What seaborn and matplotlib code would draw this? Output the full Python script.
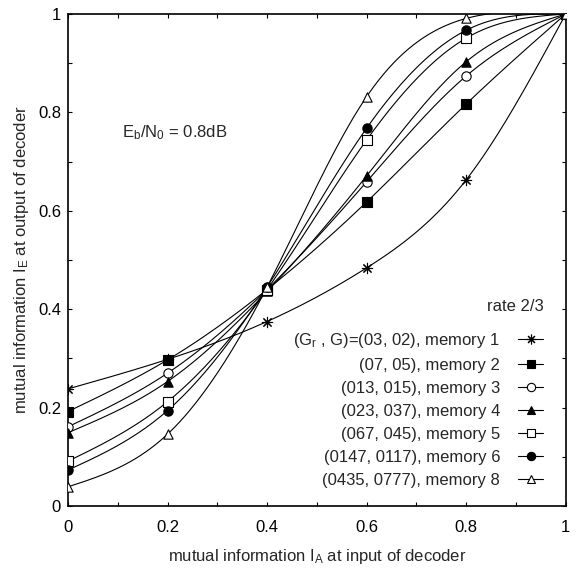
import numpy as np
import matplotlib
matplotlib.use("Agg")
import matplotlib.pyplot as plt
import seaborn as sns
import pandas as pd
from matplotlib.lines import Line2D
from matplotlib.ticker import MultipleLocator

# EXIT chart values, rate 2/3 codes at Eb/N0 = 0.8dB
i_a = [0.0, 0.2, 0.4, 0.6, 0.8, 1.0]
mem1 = [0.238, 0.298, 0.375, 0.484, 0.663, 1.0]
mem2 = [0.192, 0.297, 0.440, 0.618, 0.817, 1.0]
mem3 = [0.161, 0.270, 0.440, 0.659, 0.874, 1.0]
mem4 = [0.149, 0.253, 0.436, 0.671, 0.903, 1.0]
mem5 = [0.091, 0.212, 0.440, 0.744, 0.951, 1.0]
mem6 = [0.073, 0.194, 0.445, 0.768, 0.967, 1.0]
mem8 = [0.039, 0.146, 0.445, 0.832, 0.991, 1.0]

labels = ['(G$_r$ , G)=(03, 02), memory 1', '(07, 05), memory 2', '(013, 015), memory 3',
          '(023, 037), memory 4', '(067, 045), memory 5', '(0147, 0117), memory 6',
          '(0435, 0777), memory 8']
series = [mem1, mem2, mem3, mem4, mem5, mem6, mem8]
markers = [(8, 2, 0), 's', 'o', '^', 's', 'o', '^']
filled = [True, True, False, True, False, True, False]


def natural_spline(x, y, xs):
    # plain natural cubic spline, like gnuplot "smooth csplines"
    x = np.asarray(x, float)
    y = np.asarray(y, float)
    n = len(x)
    h = np.diff(x)
    A = np.zeros((n, n))
    b = np.zeros(n)
    A[0, 0] = A[-1, -1] = 1
    for k in range(1, n - 1):
        A[k, k - 1] = h[k - 1]
        A[k, k] = 2 * (h[k - 1] + h[k])
        A[k, k + 1] = h[k]
        b[k] = 3 * ((y[k + 1] - y[k]) / h[k] - (y[k] - y[k - 1]) / h[k - 1])
    c = np.linalg.solve(A, b)
    out = np.zeros_like(xs)
    for j, xv in enumerate(xs):
        k = min(np.searchsorted(x, xv, side='right') - 1, n - 2)
        k = max(k, 0)
        dx = xv - x[k]
        bk = (y[k + 1] - y[k]) / h[k] - h[k] * (2 * c[k] + c[k + 1]) / 3
        dk = (c[k + 1] - c[k]) / (3 * h[k])
        out[j] = y[k] + bk * dx + c[k] * dx ** 2 + dk * dx ** 3
    return out


sns.set_theme(style='ticks')
plt.rcParams['font.family'] = ['Liberation Sans', 'DejaVu Sans']
plt.rcParams['mathtext.fontset'] = 'custom'
plt.rcParams['mathtext.rm'] = 'Liberation Sans'
plt.rcParams['mathtext.it'] = 'Liberation Sans'

fig = plt.figure(figsize=(5.78, 5.76), dpi=100)
ax = fig.add_axes([0.1176, 0.1215, 0.8612, 0.8542])

xs = np.linspace(0, 1, 201)
handles = []
for lab, vals, m, f in zip(labels, series, markers, filled):
    curve = pd.DataFrame({'x': xs, 'y': natural_spline(i_a, vals, xs)})
    sns.lineplot(data=curve, x='x', y='y', color='black', linewidth=0.8, ax=ax)
    pts = pd.DataFrame({'x': i_a, 'y': vals})
    fc = 'black' if f else 'white'
    ms = 55 if m == (8, 2, 0) else 45
    sns.scatterplot(data=pts, x='x', y='y', marker=m, s=ms, color=fc,
                    edgecolor='black', linewidth=0.8, zorder=3, ax=ax)
    handles.append(Line2D([0], [0], color='black', linewidth=0.8, marker=m,
                          markersize=7 if m == (8, 2, 0) else 6,
                          markerfacecolor=fc, markeredgecolor='black',
                          markeredgewidth=0.8))

ax.set_xlim(0, 1)
ax.set_ylim(0, 1)
ax.xaxis.set_major_locator(MultipleLocator(0.2))
ax.yaxis.set_major_locator(MultipleLocator(0.2))
ax.xaxis.set_minor_locator(MultipleLocator(0.1))
ax.yaxis.set_minor_locator(MultipleLocator(0.1))
ax.xaxis.set_major_formatter(plt.FuncFormatter(lambda v, p: '%g' % round(v, 1)))
ax.yaxis.set_major_formatter(plt.FuncFormatter(lambda v, p: '%g' % round(v, 1)))
ax.tick_params(which='both', direction='in', top=True, right=True,
               length=3, width=0.8, color='black', labelsize=12, labelcolor='black')
ax.tick_params(axis='x', which='major', pad=10)
ax.tick_params(axis='y', which='major', pad=5)
for s in ax.spines.values():
    s.set_linewidth(1.2)
    s.set_color('black')

ax.set_xlabel('mutual information I$_A$ at input of decoder', fontsize=12, labelpad=9)
ax.set_ylabel('mutual information I$_E$ at output of decoder', fontsize=12, labelpad=5)

ax.text(0.215, 0.758, 'E$_b$/N$_0$ = 0.8dB', fontsize=12, ha='center', va='center')

leg = ax.legend(handles, labels, loc='upper right', bbox_to_anchor=(0.955, 0.42),
                frameon=False, markerfirst=False, title='rate 2/3', fontsize=12,
                title_fontsize=12, handlelength=1.5, handletextpad=1.1,
                labelspacing=0.48, borderaxespad=0, borderpad=0)
leg._legend_box.align = 'right'
leg._legend_box.sep = 12

fig.savefig('out.png', dpi=100)
